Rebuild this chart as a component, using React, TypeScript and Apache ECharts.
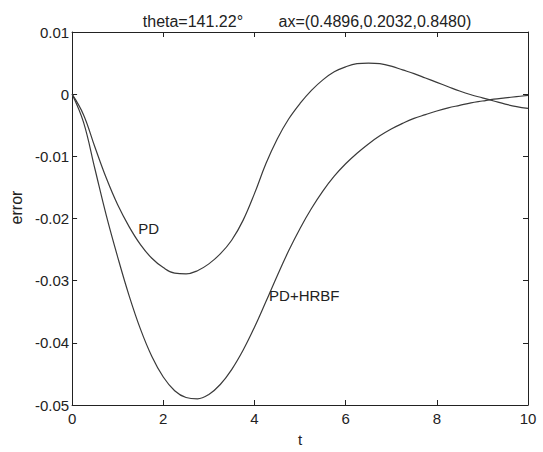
import React, { useEffect, useRef } from "react";
import * as echarts from "echarts";

const tValues = [0, 0.25, 0.5, 0.75, 1.0, 1.25, 1.5, 1.75, 2.0, 2.25, 2.5, 2.75, 3.0, 3.25, 3.5, 3.75, 4.0, 4.25, 4.5, 4.75, 5.0, 5.25, 5.5, 5.75, 6.0, 6.25, 6.5, 6.75, 7.0, 7.25, 7.5, 7.75, 8.0, 8.25, 8.5, 8.75, 9.0, 9.25, 9.5, 9.75, 10];

const pdValues = [0, -0.0033, -0.0085, -0.0135, -0.0178, -0.0213, -0.0242, -0.0264, -0.0279, -0.0288, -0.0289, -0.0284, -0.0273, -0.0257, -0.0235, -0.0203, -0.016, -0.0112, -0.0072, -0.004, -0.0015, 0.0006, 0.0023, 0.0036, 0.0044, 0.0049, 0.005, 0.0049, 0.0045, 0.0039, 0.0033, 0.0026, 0.0019, 0.0012, 0.0005, -0.0001, -0.0006, -0.0011, -0.0016, -0.002, -0.0023];

const hrbfValues = [0, -0.0045, -0.012, -0.0195, -0.0262, -0.0324, -0.0378, -0.0422, -0.0455, -0.0477, -0.0488, -0.049, -0.0483, -0.0467, -0.0443, -0.0412, -0.0375, -0.0334, -0.0292, -0.0252, -0.0216, -0.0184, -0.0156, -0.0132, -0.0112, -0.0095, -0.008, -0.0067, -0.0056, -0.0047, -0.0039, -0.0033, -0.0027, -0.0022, -0.0018, -0.0014, -0.0011, -0.0008, -0.0006, -0.0004, -0.0002];

const titleText = "theta=141.22°        ax=(0.4896,0.2032,0.8480)";
const xName = "t";
const yName = "error";
const pdLabel = { text: "PD", t: 1.68, v: -0.0216 };
const hrbfLabel = { text: "PD+HRBF", t: 4.32, v: -0.0324 };

const FONT = "Liberation Sans, Arial, sans-serif";
const INK = "#222";
const LINE = "#3a3a3a";

export default function App() {
  const ref = useRef<HTMLDivElement>(null);
  useEffect(() => {
    if (!ref.current) return;
    const chart = echarts.init(ref.current, null, { renderer: "svg" });
    const fmtY = (v: number) => String(parseFloat(v.toFixed(2)));
    const axisBase = {
      axisLine: { show: true, onZero: false, lineStyle: { color: INK, width: 1 } },
      axisTick: { show: true, inside: true, length: 5, lineStyle: { color: INK } },
      splitLine: { show: false },
    };
    chart.setOption({
      animation: false,
      backgroundColor: "#fff",
      title: {
        text: titleText,
        left: 302,
        textAlign: "center",
        top: 8,
        textStyle: { fontFamily: FONT, fontSize: 16, fontWeight: "normal", color: INK },
      },
      grid: { left: 70, right: 15, top: 32, bottom: 41 },
      xAxis: [
        {
          type: "value",
          min: 0,
          max: 10,
          interval: 2,
          position: "bottom",
          name: xName,
          nameLocation: "middle",
          nameGap: 27,
          nameTextStyle: { fontFamily: FONT, fontSize: 15, color: INK },
          axisLabel: { fontFamily: FONT, fontSize: 15, color: INK, margin: 6 },
          ...axisBase,
        },
        {
          type: "value",
          min: 0,
          max: 10,
          interval: 2,
          position: "top",
          axisLabel: { show: false },
          ...axisBase,
        },
      ],
      yAxis: [
        {
          type: "value",
          min: -0.05,
          max: 0.01,
          interval: 0.01,
          position: "left",
          name: yName,
          nameLocation: "middle",
          nameGap: 45,
          nameTextStyle: { fontFamily: FONT, fontSize: 16, color: INK, padding: [0, 0, 0, 22] },
          axisLabel: { fontFamily: FONT, fontSize: 15, color: INK, margin: 3, formatter: fmtY },
          ...axisBase,
        },
        {
          type: "value",
          min: -0.05,
          max: 0.01,
          interval: 0.01,
          position: "right",
          axisLabel: { show: false },
          ...axisBase,
        },
      ],
      series: [
        {
          name: "PD",
          type: "line",
          smooth: 0.4,
          showSymbol: false,
          data: tValues.map((t, i) => [t, pdValues[i]]),
          lineStyle: { color: LINE, width: 1.2 },
          markPoint: {
            symbol: "circle",
            symbolSize: 0,
            data: [
              {
                coord: [pdLabel.t, pdLabel.v],
                label: {
                  show: true,
                  formatter: pdLabel.text,
                  position: "inside",
                  fontFamily: FONT,
                  fontSize: 15,
                  color: INK,
                },
              },
            ],
          },
        },
        {
          name: "PD+HRBF",
          type: "line",
          smooth: 0.4,
          showSymbol: false,
          data: tValues.map((t, i) => [t, hrbfValues[i]]),
          lineStyle: { color: LINE, width: 1.2 },
          markPoint: {
            symbol: "circle",
            symbolSize: 0,
            data: [
              {
                coord: [hrbfLabel.t, hrbfLabel.v],
                label: {
                  show: true,
                  formatter: hrbfLabel.text,
                  position: "right",
                  distance: 0,
                  fontFamily: FONT,
                  fontSize: 15,
                  color: INK,
                },
              },
            ],
          },
        },
      ],
    });
    return () => chart.dispose();
  }, []);
  return <div ref={ref} style={{ width: 543, height: 452, position: "absolute", left: 0, top: 0 }} />;
}
